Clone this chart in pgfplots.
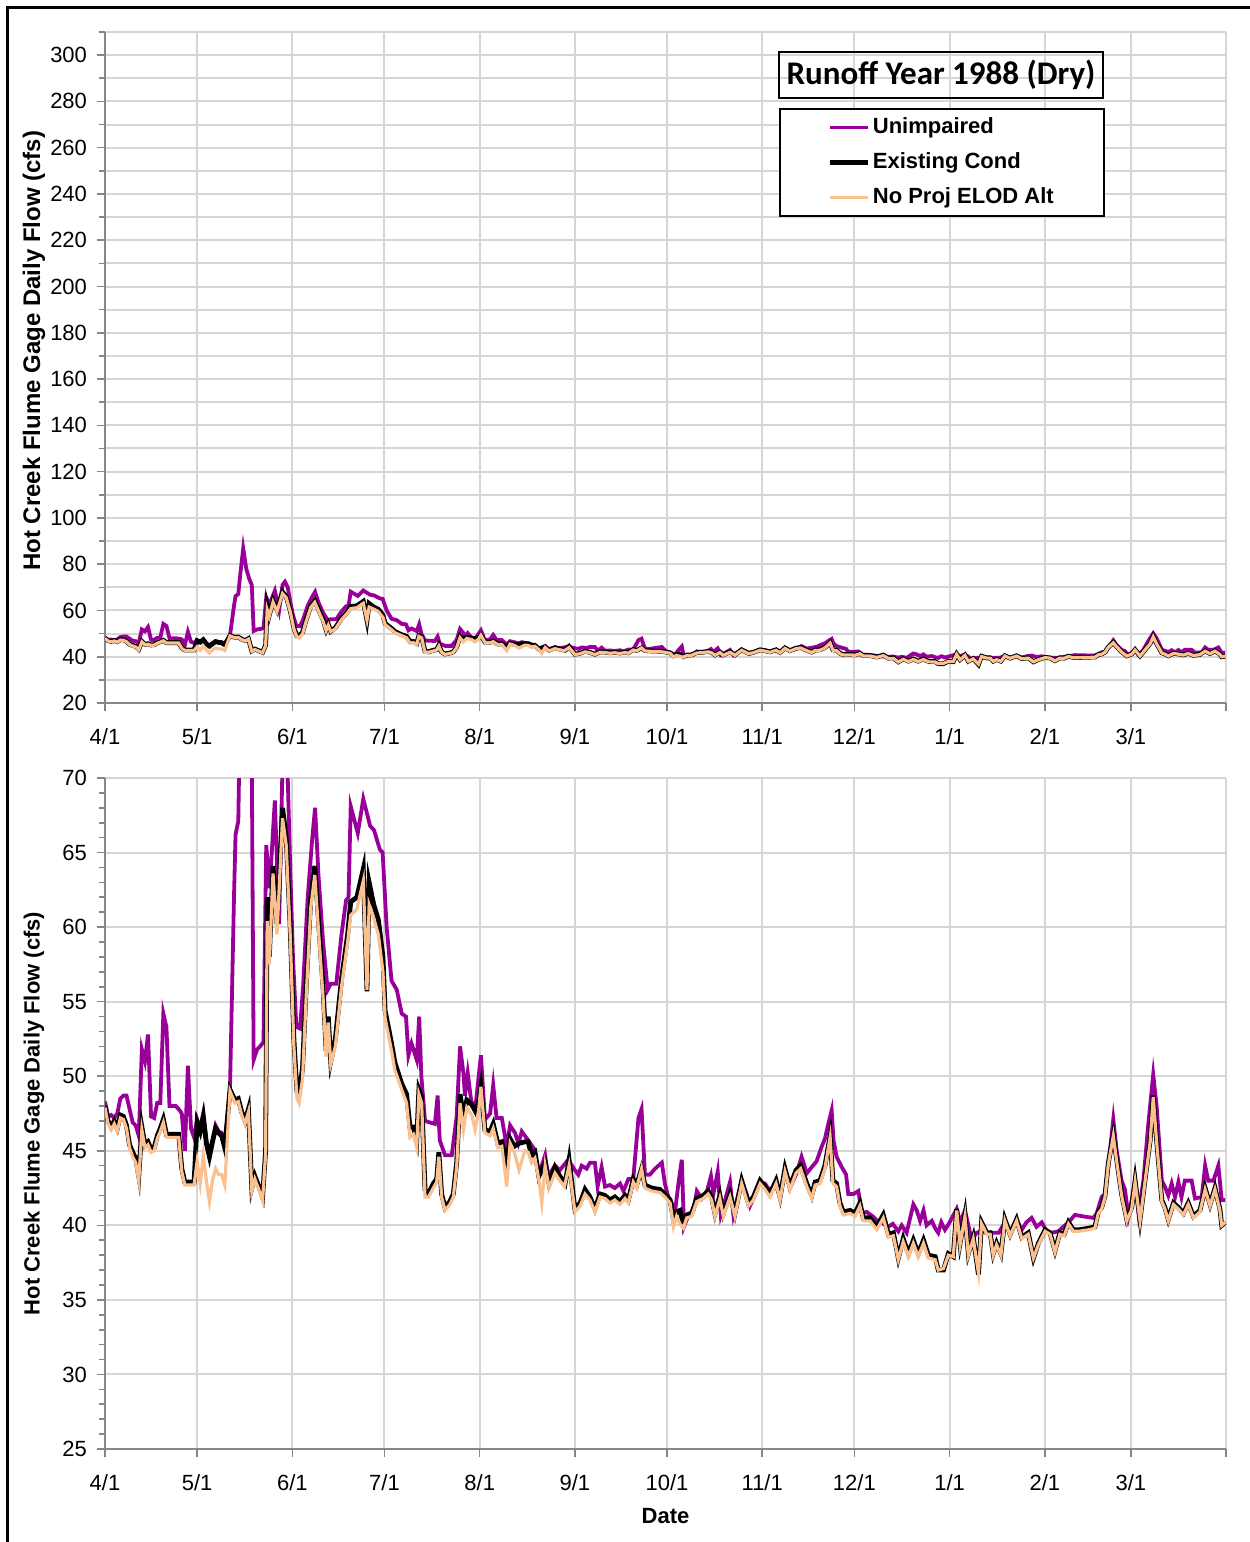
\documentclass[border=0pt]{standalone}
\usepackage{pgfplots}
\pgfplotsset{compat=1.18}
\usepackage{pgfplotstable}
\usepackage{fontspec}
\setmainfont{Liberation Sans}
\newfontfamily\titlefont{Carlito}

\definecolor{unimp}{RGB}{153,0,153}
\definecolor{noproj}{RGB}{250,192,144}
\definecolor{gridgray}{RGB}{214,214,214}
\definecolor{axisgray}{RGB}{134,134,134}

% daily flow, cfs; day 0 = 4/1/1988
\pgfplotstableread{
day flow
0 48.3
1 47.3
2 47.4
3 47.2
4 47.5
5 48.5
6 48.7
7 48.7
8 47.8
9 46.9
10 46.7
11 46.0
12 51.8
13 51.0
14 52.8
15 47.3
16 47.2
17 48.2
18 48.2
19 54.2
20 53.3
21 48.0
22 48.0
23 48.0
24 47.8
25 47.5
26 45.0
27 50.7
28 46.5
29 45.9
30 47.1
31 46.5
32 47.5
33 45.7
34 44.8
35 45.7
36 46.7
37 46.3
38 46.2
39 45.4
40 47.5
40.7 49.2
42 62.0
42.5 66.2
43.4 67.1
44 75.0
45 86.8
46 78.0
47 73.5
47.8 71.0
48.4 51.1
49.5 51.8
50.5 52.0
51.6 52.3
52.5 65.5
53.6 62.6
55.3 68.5
56.7 60.2
57.8 71.0
58.6 72.4
59.5 70.0
60.3 64.0
61.2 58.0
62.3 53.3
63.5 53.2
64.5 56.0
66 62.0
67.5 66.0
68.4 68.0
69.5 63.5
71 59.0
72.5 55.8
73.5 56.2
75.3 56.2
77 59.5
78.5 61.8
79.3 62.0
80 68.1
82.3 66.3
84.1 68.6
86.3 66.8
87.6 66.5
89.5 65.2
90.4 65.0
91.7 60.0
93.3 56.4
95 55.8
96.6 54.2
98 54.0
98.8 51.4
99.8 52.2
101.5 51.1
102.3 54.0
103 50.0
104.2 47.0
107.4 46.8
108.3 48.7
109 45.7
110.7 44.7
112.9 44.7
114.5 47.3
115.6 52.0
116.7 50.2
117.2 48.7
118.1 50.2
119.2 48.4
120.5 47.7
122.4 51.4
123.7 47.1
125.4 47.5
126.4 49.4
127.5 47.2
129.2 47.2
130.8 45.3
131.9 46.7
133.5 46.2
134.6 45.5
135.7 46.3
137.8 45.7
139.8 45.1
141.1 43.3
143.3 44.7
144.3 43.3
146.5 44.0
148.1 43.7
150.8 44.4
153 43.7
154.1 43.4
155.2 44.0
156.8 43.8
157.9 44.2
159.5 44.2
160.4 42.6
161.7 43.9
162.8 42.6
164.4 42.7
166 42.5
167.7 42.8
168.8 42.3
170.4 43.1
172 43.1
173.7 47.2
174.7 47.8
175.8 43.4
177.4 43.4
179.1 43.8
181.3 44.2
182.3 42.8
183.4 41.9
184.5 41.5
185.6 40.9
186.7 42.8
187.8 44.4
188.5 39.9
190 40.7
191.6 41.0
192.7 42.3
194.3 41.8
196 42.3
197.3 43.3
198.1 42.1
199.5 43.6
200.5 40.7
201.9 41.7
203.5 42.9
204.6 40.7
207.3 43.0
208.9 42.1
210 41.3
211.6 42.0
213.3 42.9
214.9 42.8
216.5 42.3
218.2 42.8
219.8 41.9
221.4 43.8
223 42.5
225.2 43.5
226.8 44.6
228.5 43.5
230.1 43.9
231.7 44.3
233.4 45.3
234.4 45.8
235.5 46.8
236.6 47.7
237.2 45.7
238.2 44.6
239.9 43.9
241.3 43.4
242 42.1
243.7 42.1
245.3 42.3
246.4 40.8
248 40.9
250 40.6
251.5 40.3
253.4 40.1
255 39.9
256.5 40.1
258.3 39.6
259.4 40.0
261 39.5
263.2 41.4
264.3 41.0
265.4 40.3
266.5 41.0
267.5 40.0
269.2 40.3
270.3 39.8
271.3 39.5
272.3 40.2
273.5 39.7
275 40.2
277.3 41.1
278.4 40.2
280 41.0
281.1 40.0
282.2 39.0
283.8 39.5
285.4 39.6
287 39.5
289 39.5
291 39.5
293 40.2
294.7 39.5
296.8 40.4
298.5 39.7
300 40.2
301.7 40.5
303.3 39.9
305 40.2
306.6 39.6
308.2 39.5
310.4 39.6
312 39.9
313.7 40.2
315.8 40.7
318.5 40.6
321.8 40.5
322.9 40.8
324.5 41.9
325.6 42.1
327.2 45.0
328.3 47.1
329.4 45.0
331 43.0
332.1 42.4
333.2 40.6
334.3 41.7
335.4 43.0
336.5 40.8
338.1 43.0
339.7 46.8
341.3 50.1
342.4 48.0
344.1 43.0
345.1 42.6
346.2 42.0
347.3 42.8
348.4 41.9
349.5 42.9
350.5 41.9
351.6 43.0
353.8 43.0
354.9 41.8
357.1 41.9
358.2 44.0
359.2 43.0
360.9 43.0
362.5 44.0
363.6 41.7
364.7 41.7
}\unimpaired

\pgfplotstableread{
day flow
0 48.0
1 47.0
2 46.6
3 47.0
4 46.5
5 47.4
6 47.3
7 46.7
8 45.4
9 44.9
10 44.5
11 43.3
12 46.6
13 45.4
14 45.6
15 45.1
16 45.2
17 46.0
18 46.5
19 47.1
20 46.1
21 46.1
22 46.1
23 46.1
24 46.1
25 43.8
26 42.9
27 42.9
28 42.9
29 42.9
30 46.9
31 46.3
32 47.3
33 45.5
34 44.6
35 45.6
36 46.5
37 46.2
38 46.0
39 45.2
40.7 49.1
42.3 48.4
43.4 48.5
44.5 47.6
45.6 47.0
46.7 47.8
47.8 42.5
48.8 43.3
49.9 42.7
51.3 41.9
52.3 45.0
52.8 62.0
53.5 58.0
54.7 64.1
56 60.2
57.8 68.0
59 66.0
60.3 60.0
61.5 52.5
62.5 49.0
63.2 48.9
64.3 50.5
65.5 56.0
67 62.0
68.3 64.1
69.5 60.5
71 56.0
72 51.7
72.7 54.0
73.5 51.0
75 52.5
77 56.5
79 59.5
80 61.7
82 62.0
84.1 63.9
85.3 55.7
86 63.0
87.5 61.5
89 60.5
90.5 58.0
91.2 54.4
93.3 52.2
94.4 50.9
96.6 49.5
98.2 48.8
99.3 46.6
100.4 46.6
101.5 45.7
102.2 49.1
103.1 48.6
104.2 42.4
105.3 42.1
106.9 42.8
108 43.1
108.7 44.9
109.6 42.1
110.7 41.2
112.3 41.6
113.4 42.1
114.5 44.2
115.6 48.8
116.7 47.3
117.8 48.4
119.4 48.1
120.5 47.7
121.6 48.2
122.4 49.3
123.7 46.4
125.4 46.3
126.4 46.8
127.9 45.5
129.2 45.6
130.8 44.2
131.9 45.8
133.3 45.3
134.8 45.5
136.7 45.6
137.8 45.6
138.9 44.7
140 44.9
141.3 43.3
143.3 44.2
144.6 42.8
146.5 43.9
148.1 43.3
149.8 42.8
151.1 44.4
153 41.1
154.7 41.5
156.3 42.4
157.9 41.9
159.5 41.1
161.2 42.1
162.8 42.0
164.4 41.7
166 41.9
167.7 41.6
169.3 42.0
170.4 41.7
172 43.1
173.1 42.7
174.7 43.8
175.8 42.7
178 42.5
180.7 42.4
182.3 42.1
184 41.7
185.1 40.4
186.1 40.9
187.2 41.0
188.3 40.1
189.4 40.7
191 40.8
192.7 41.8
194.8 42.0
196.4 42.3
197.5 41.9
198.6 40.8
200.2 42.0
201.3 40.8
203.5 42.1
205.1 40.8
207.3 43.0
209.5 41.5
211.1 41.9
213.3 43.0
214.9 42.6
216.5 42.1
218.5 43.0
219.8 41.9
221.4 43.8
223 42.6
225 43.7
226.5 44.0
228.5 42.8
230.1 42.0
231.2 42.9
232.8 43.0
234.4 44.0
236.1 46.0
237 43.0
238.2 42.8
239.3 41.5
240.4 40.9
242.6 41.0
244.2 40.8
245.8 41.5
246.9 40.5
249.1 40.5
251.3 39.9
253.4 40.7
255.1 39.4
256.7 39.5
258.3 37.8
259.9 39.1
261.6 38.1
263.2 39.0
264.8 38.1
266.5 39.0
268.1 38.0
270.3 37.9
271.3 37.0
273 37.0
274.6 38.1
276.2 37.9
277.3 41.1
278.4 38.8
280 40.7
281.1 38.1
282.7 39.2
284.4 36.7
285.4 40.2
287.1 39.5
288.2 39.5
289.2 38.1
290.3 38.8
291.7 38.1
293 40.4
294.7 39.4
296.8 40.4
298.5 39.2
300.6 39.5
302.3 37.8
303.9 38.8
306.1 39.7
307.7 39.5
309.3 38.3
310.9 39.5
312.3 39.4
313.7 40.2
315.3 39.7
317 39.7
320.2 39.8
322.3 39.9
323.4 40.9
324.5 41.2
325.6 42.0
326.7 44.2
328.3 46.1
329.4 44.4
331 42.1
332.7 40.4
334.3 41.2
335.4 43.0
337 40.4
338.6 43.0
340.3 45.7
341.3 48.7
342.4 45.7
344.1 41.7
345.1 41.2
346.2 40.4
347.9 41.5
349.5 41.2
351.1 40.8
352.7 41.5
354.4 40.6
356.5 41.0
358.2 42.5
359.8 41.4
361.4 42.5
363 41.1
363.6 40.0
364.7 40.2
}\existing

\pgfplotstableread{
day flow
0 47.9
1 46.8
2 46.4
3 46.8
4 46.3
5 47.2
6 47.1
7 46.5
8 45.2
9 44.6
10 44.2
11 43.0
12 46.4
13 45.2
14 45.4
15 44.9
16 45.0
17 45.8
18 46.3
19 46.9
20 45.9
21 45.9
22 45.9
23 45.9
24 45.9
25 43.6
26 42.7
27 42.7
28 42.7
29 42.7
30 44.3
31 42.8
32 44.7
33 43.0
34 41.6
35 43.0
36 43.8
37 43.4
38 43.4
39 42.7
40.7 49.0
42.3 48.2
43.4 48.3
44.5 47.4
45.6 46.8
46.7 47.6
47.8 42.3
48.8 43.1
49.9 42.5
51.3 41.7
52.3 44.8
52.8 60.4
53.5 57.5
54.7 63.6
56 59.5
57.8 67.3
59 65.5
60.3 59.5
61.5 52.0
62.5 48.5
63.2 48.2
64.3 49.8
65.5 55.3
67 61.3
68.3 63.5
69.5 59.8
71 55.3
72 51.3
72.7 53.6
73.5 50.8
75 52.0
77 56.0
79 59.0
80 60.8
82 61.2
84.1 63.1
85.3 55.8
86 61.5
87.5 60.6
89 59.5
90.5 57.0
91.2 53.9
93.3 51.7
94.4 50.4
96.6 49.1
98.2 48.2
99.3 45.9
100.4 46.1
101.5 45.2
102.2 48.8
103.1 48.2
104.2 41.9
105.3 41.9
106.9 42.5
108 42.9
108.7 44.6
109.6 41.9
110.7 41.0
112.3 41.4
113.4 41.9
114.5 43.9
115.6 48.2
116.7 46.4
117.8 47.9
119.4 47.4
120.5 46.4
121.6 47.6
122.4 49.3
123.7 46.2
125.4 46.0
126.4 46.5
127.9 45.2
129.2 45.3
130.8 42.6
131.9 45.5
133.3 44.9
134.8 43.7
136.7 45.0
137.8 44.9
138.9 44.2
140 44.5
141.3 43.0
142.2 41.5
143.3 44.0
144.6 42.5
146.5 43.5
148.1 43.0
149.6 42.6
151.1 44.0
153 40.9
154.7 41.3
156.3 42.1
157.9 41.7
159.5 40.9
161.2 41.9
162.8 41.8
164.4 41.5
166 41.7
167.7 41.4
169.3 41.8
170.4 41.5
172 42.9
173.1 42.5
174.7 43.8
175.8 42.5
178 42.3
180.7 42.2
182.3 41.9
184 41.5
185.1 39.9
186.1 40.6
187.2 40.1
188.3 39.8
189.4 40.5
191 40.6
192.7 41.6
194.8 41.8
196.4 42.1
197.5 41.7
198.6 40.6
200.2 41.8
201.3 40.6
203.5 41.9
205.1 40.6
207.3 42.8
209.5 41.3
211.1 41.7
213.3 42.8
214.9 42.4
216.5 41.9
218.5 42.8
219.8 41.7
221.4 43.6
223 42.4
225 43.5
226.5 43.8
228.5 42.6
230.1 41.8
231.2 42.7
232.8 42.8
234.4 43.8
236.1 45.9
237 42.8
238.2 42.6
239.3 41.3
240.4 40.7
242.6 40.8
244.2 40.6
245.8 41.3
246.9 40.3
249.1 40.3
251.3 39.7
253.4 40.5
255.1 39.2
256.7 39.3
258.3 37.7
259.9 38.9
261.6 37.9
263.2 38.8
264.8 37.9
266.5 38.8
268.1 37.8
270.3 37.7
271.3 37.0
273 37.1
274.6 38.0
276.2 37.9
277.3 41.0
278.4 38.7
280 40.6
281.1 38.0
282.7 39.1
284.4 36.8
285.4 40.1
287.1 39.4
288.2 39.4
289.2 38.0
290.3 38.7
291.7 38.0
293 40.3
294.7 39.3
296.8 40.3
298.5 39.1
300.6 39.4
302.3 37.8
303.9 38.7
306.1 39.6
307.7 39.4
309.3 38.2
310.9 39.4
312.3 39.3
313.7 40.1
315.3 39.6
317 39.6
320.2 39.7
322.3 39.8
323.4 40.8
324.5 41.1
325.6 41.9
326.7 44.1
328.3 46.0
329.4 44.3
331 42.0
332.7 40.3
334.3 41.1
335.4 42.9
337 40.3
338.6 42.9
340.3 45.6
341.3 48.6
342.4 45.6
344.1 41.6
345.1 41.1
346.2 40.3
347.9 41.4
349.5 41.1
351.1 40.7
352.7 41.4
354.4 40.5
356.5 40.9
358.2 42.4
359.8 41.3
361.4 42.4
363 41.0
363.6 40.0
364.7 40.2
}\noproj

\pgfplotsset{
  flowaxis/.style={
    scale only axis,
    width=560.5bp, height=335.5bp,
    xmin=0, xmax=365,
    axis x line=bottom, axis y line=left,
    axis line style={-, axisgray, line width=1bp},
    tick align=outside,
    major tick length=4bp, minor tick length=3bp,
    every tick/.style={axisgray, line width=0.8bp},
    xtick={0,30,61,91,122,153,183,214,244,275,306,334,365},
    xticklabels={4/1,5/1,6/1,7/1,8/1,9/1,10/1,11/1,12/1,1/1,2/1,3/1,{}},
    major grid style={gridgray, line width=1bp},
    minor grid style={gridgray, line width=1bp},
    ticklabel style={font=\fontsize{11bp}{13bp}\selectfont},
    xticklabel style={yshift=-5.5bp},
    yticklabel style={xshift=-1.5bp},
    /pgf/number format/assume math mode=true,
    ylabel={Hot Creek Flume Gage Daily Flow (cfs)},
  },
  unimpstyle/.style={unimp, line width=1.9bp, no markers},
  existstyle/.style={black, line width=2.4bp, no markers},
  noprojstyle/.style={noproj, line width=1.6bp, no markers},
}

\begin{document}
\begin{tikzpicture}
\useasboundingbox (0,0) rectangle (625bp,-771bp);
\draw[line width=1.5bp] (3.5bp,-771bp) -- (3.5bp,-3.5bp) -- (625bp,-3.5bp);

% upper panel, full range
\begin{axis}[flowaxis,
    at={(52.5bp,-16bp)}, anchor=north west,
    ymin=20, ymax=310,
    ytick={20,40,...,300},
    minor ytick={30,50,...,310},
    grid=both,
    ylabel style={font=\bfseries\fontsize{12bp}{14bp}\selectfont, anchor=center,
      at={(axis description cs:-0.0633,0.525)}},
    legend cell align=left,
    legend image code/.code={\draw[#1] (0bp,0bp) -- (19bp,0bp);},
    legend style={at={(0.6013,0.8867)}, anchor=north west, draw=black, line width=1bp,
      fill=white, font=\bfseries\fontsize{11bp}{13bp}\selectfont,
      nodes={inner xsep=1bp}, inner xsep=24bp, inner ysep=2.5bp, row sep=4bp},
]
\addplot[unimpstyle] table[x=day, y=flow] {\unimpaired};
\addlegendentry{Unimpaired}
\addplot[existstyle] table[x=day, y=flow] {\existing};
\addlegendentry{Existing Cond}
\addplot[noprojstyle] table[x=day, y=flow] {\noproj};
\addlegendentry{No Proj ELOD Alt}
\end{axis}

\node[draw=black, line width=1bp, minimum width=162bp, minimum height=23bp, inner sep=0pt,
  font=\titlefont\bfseries\fontsize{16.5bp}{18bp}\selectfont]
  at (470.5bp,-37.5bp) {Runoff Year 1988 (Dry)};

% lower panel, zoomed in
\begin{axis}[flowaxis,
    at={(52.5bp,-389bp)}, anchor=north west,
    ymin=25, ymax=70,
    ytick={25,30,...,70},
    minor y tick num=4,
    grid=major,
    ylabel style={font=\bfseries\fontsize{11bp}{13bp}\selectfont, anchor=center,
      at={(axis description cs:-0.0633,0.5)}},
    xlabel={Date},
    xlabel style={font=\bfseries\fontsize{11bp}{13bp}\selectfont,
      at={(axis description cs:0.5,-0.0998)}, anchor=center},
]
\addplot[unimpstyle] table[x=day, y=flow] {\unimpaired};
\addplot[existstyle] table[x=day, y=flow] {\existing};
\addplot[noprojstyle] table[x=day, y=flow] {\noproj};
\end{axis}
\end{tikzpicture}
\end{document}
